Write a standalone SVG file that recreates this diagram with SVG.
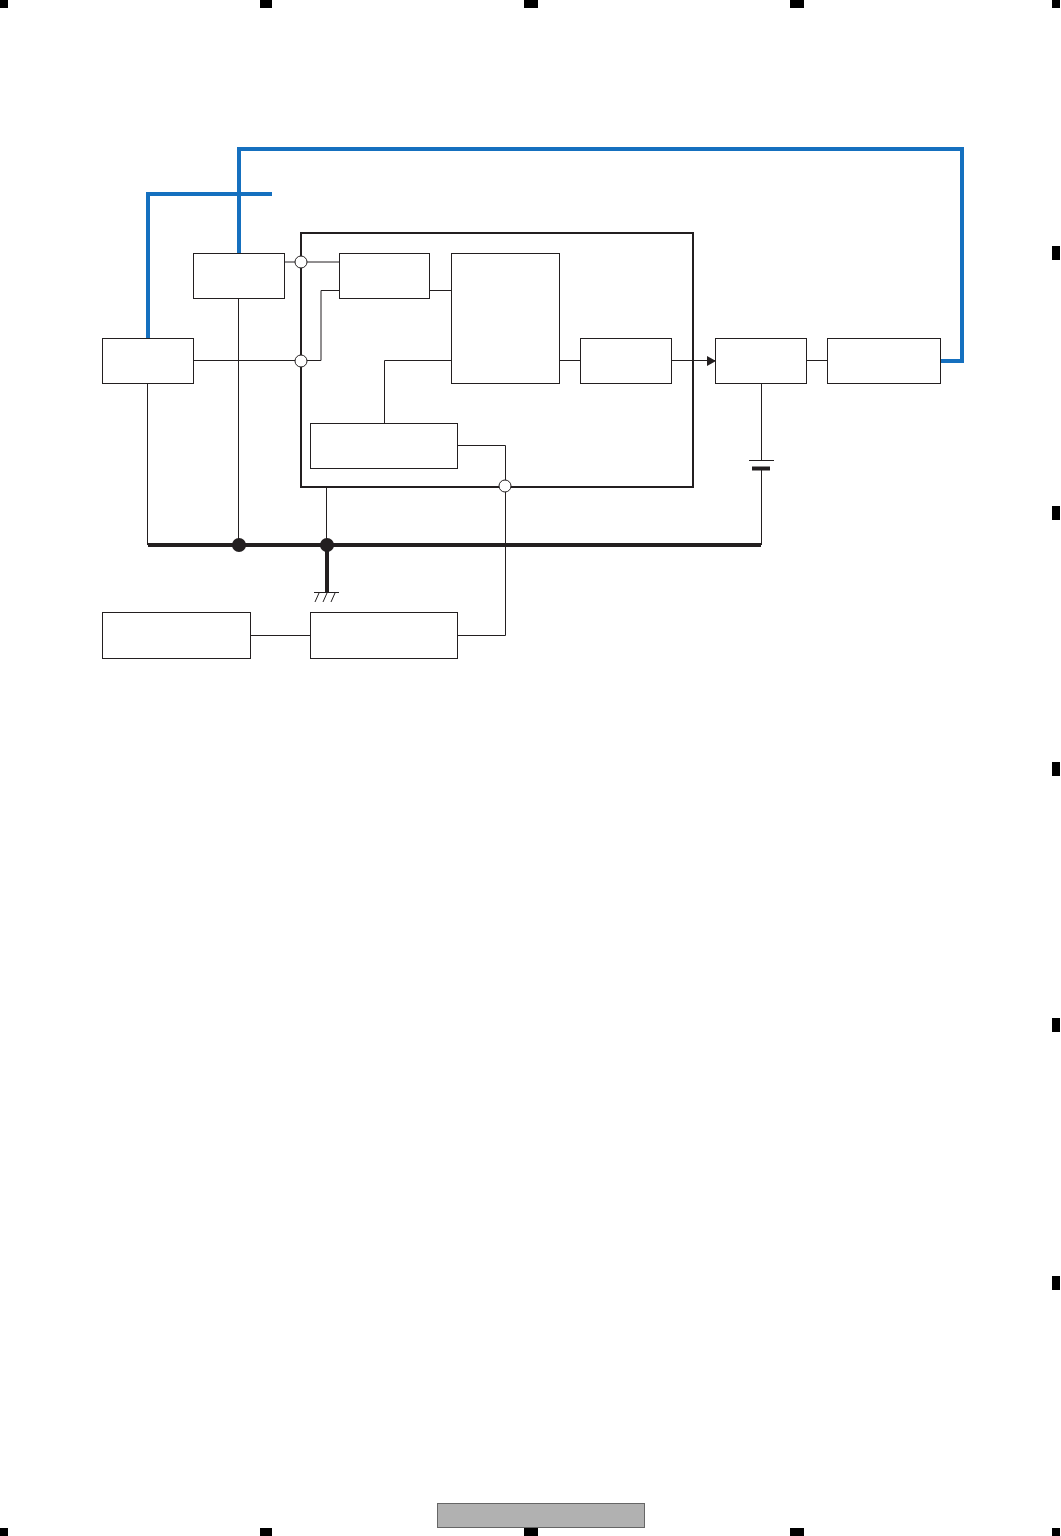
<svg xmlns="http://www.w3.org/2000/svg" width="1061" height="1536" viewBox="0 0 1061 1536">
<style>
.box{fill:#fff;stroke:#231f20;stroke-width:1}
.w{fill:none;stroke:#231f20;stroke-width:1}
.main{fill:none;stroke:#231f20;stroke-width:2}
.bus{fill:none;stroke:#231f20;stroke-width:4}
.blue{fill:none;stroke:#1570bf;stroke-width:4}
.o{fill:#fff;stroke:#231f20;stroke-width:1}
.dot{fill:#231f20}
.m{fill:#000}
</style>
<rect width="1061" height="1536" fill="#fff"/>
<g id="crop-marks">
<rect class="m" x="0" y="0" width="8" height="8"/><rect class="m" x="260" y="0" width="12" height="8"/><rect class="m" x="524" y="0" width="14" height="8"/><rect class="m" x="790" y="0" width="14" height="8"/><rect class="m" x="1052" y="0" width="8" height="8"/>
<rect class="m" x="1052" y="246" width="8" height="14"/><rect class="m" x="1052" y="506" width="8" height="14"/><rect class="m" x="1052" y="762" width="8" height="14"/><rect class="m" x="1052" y="1018" width="8" height="14"/><rect class="m" x="1052" y="1276" width="8" height="14"/>
<rect class="m" x="0" y="1528" width="8" height="8"/><rect class="m" x="260" y="1528" width="12" height="8"/><rect class="m" x="524" y="1528" width="14" height="8"/><rect class="m" x="790" y="1528" width="14" height="8"/><rect class="m" x="1052" y="1528" width="8" height="8"/>
</g>
<g id="page-label"><rect x="437.500" y="1503.500" width="207" height="24" fill="#b1b1b1" stroke="#666" stroke-width="1"/></g>
<g id="connectors">
<path class="main" d="M301 233H693V487H301Z"/>
<path class="w" d="M285 262H339M194 360.500H321V290.500H339M430 290.500H451M560 360.500H580M451 360.500H384.500V423M458 445.500H505.500V635.500H458M672 360.500H715M807 360.500H827M761.500 384V461M761.500 469V545M147.500 384V545M238.500 299V545M326.500 487V545M251 635.500H310"/>
<path class="w" d="M749 460.500H774"/>
<path d="M752 468.500H770" fill="none" stroke="#231f20" stroke-width="4"/>
<path class="bus" d="M148 545H761"/>
<path class="bus" d="M327 545V593"/>
<path class="w" d="M314 592.500H339M319 593L315 602M327 593L323 602M335 593L331 602"/>
<path class="blue" d="M148 338V194H272"/>
<path class="blue" d="M239 254V149H962V361H941"/>
<path class="dot" d="M707 356L716 361L707 366Z"/>
<circle class="o" cx="301" cy="262" r="6"/>
<circle class="o" cx="301" cy="361" r="6"/>
<circle class="o" cx="505" cy="486" r="6"/>
<circle class="dot" cx="239" cy="545" r="7"/>
<circle class="dot" cx="327" cy="545" r="7"/>
</g>
<g id="node-1"><rect class="box" x="102.500" y="338.500" width="91" height="45"/></g>
<g id="node-2"><rect class="box" x="193.500" y="253.500" width="91" height="45"/></g>
<g id="node-3"><rect class="box" x="339.500" y="253.500" width="90" height="45"/></g>
<g id="node-4"><rect class="box" x="451.500" y="253.500" width="108" height="130"/></g>
<g id="node-5"><rect class="box" x="580.500" y="338.500" width="91" height="45"/></g>
<g id="node-6"><rect class="box" x="310.500" y="423.500" width="147" height="45"/></g>
<g id="node-7"><rect class="box" x="715.500" y="338.500" width="91" height="45"/></g>
<g id="node-8"><rect class="box" x="827.500" y="338.500" width="113" height="45"/></g>
<g id="node-9"><rect class="box" x="102.500" y="612.500" width="148" height="46"/></g>
<g id="node-10"><rect class="box" x="310.500" y="612.500" width="147" height="46"/></g>
</svg>
